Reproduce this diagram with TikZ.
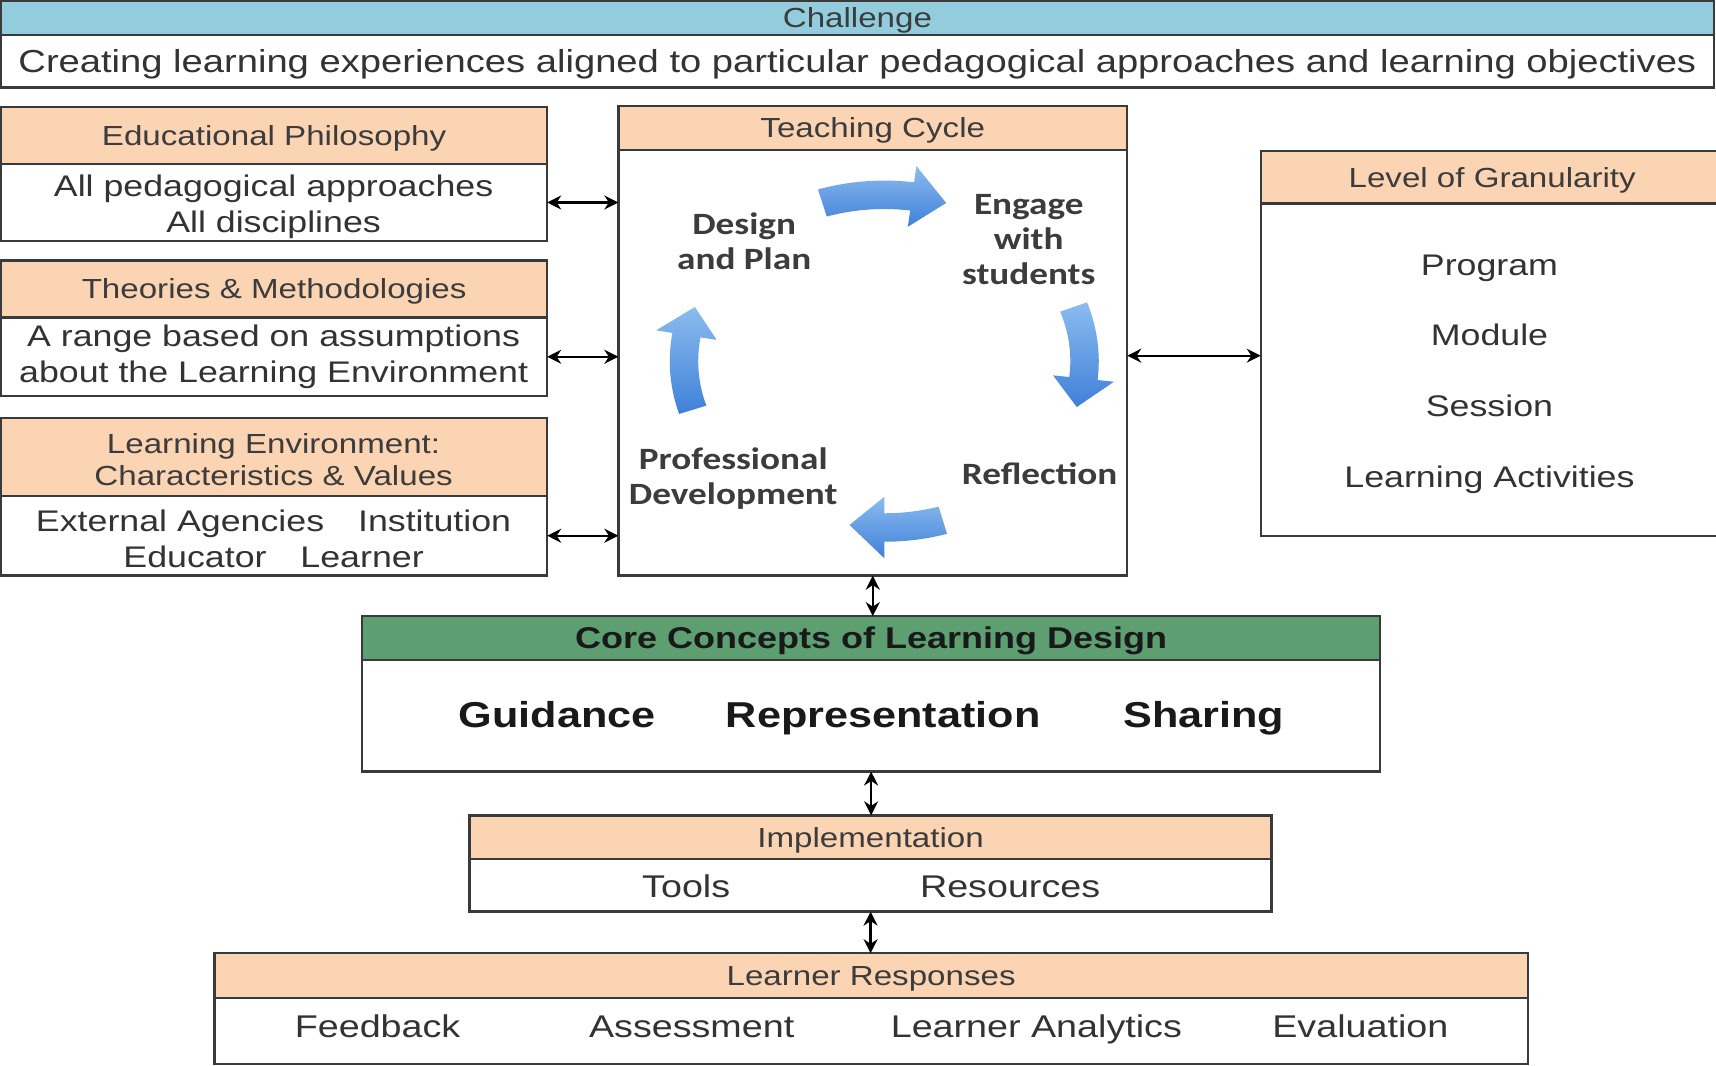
\documentclass[tikz,border=0pt]{standalone}
\usepackage{fontspec}
\setmainfont{Liberation Sans}[FakeStretch=1.2]
\newfontfamily\cycfont{Carlito}[FakeStretch=1.2]
\usetikzlibrary{arrows.meta}
\definecolor{peach}{HTML}{FBD4B4}
\definecolor{chblue}{HTML}{93CDDD}
\definecolor{coregreen}{HTML}{5E9F72}
\definecolor{bordc}{HTML}{3A3A3A}
\definecolor{txt}{HTML}{333333}
\definecolor{hdtxt}{HTML}{3C3C3C}
\definecolor{arrtop}{HTML}{8CBCEF}
\definecolor{arrbot}{HTML}{3F80D8}
\def\U{0.5472pt}
\newcommand\hfont{\fontsize{13.8}{15.9}\selectfont}
\newcommand\bx[7]{\node[#6, minimum width={(#4-#2)*\U}, minimum height={(#5-#3)*\U}] (#1) at ({(#2+#4)/2},{(#3+#5)/2}) {#7};}
\def\ccx{808}\def\ccy{330}\def\crx{183}\def\cry{152}\def\hw{13}\def\hh{28}
\newcommand\cycarrow[2]{%
  \pgfmathsetmacro\tb{#2-10}%
  \path[shade, top color=arrtop, bottom color=arrbot]
    plot[domain=#1:\tb, samples=24] ({\ccx+(\crx+\hw)*cos(\x)},{\ccy+(\cry+\hw)*sin(\x)})
    -- ({\ccx+(\crx+\hh)*cos(\tb)},{\ccy+(\cry+\hh)*sin(\tb)})
    -- ({\ccx+\crx*cos(#2)},{\ccy+\cry*sin(#2)})
    -- ({\ccx+(\crx-\hh)*cos(\tb)},{\ccy+(\cry-\hh)*sin(\tb)})
    -- plot[domain=\tb:#1, samples=24] ({\ccx+(\crx-\hw)*cos(\x)},{\ccy+(\cry-\hw)*sin(\x)})
    -- cycle;}
\begin{document}
\begin{tikzpicture}[x=\U, y=-\U,
  one/.style={text height=#1, text depth=0pt},
  box/.style={draw=bordc, line width=1.2pt, inner sep=0pt, outer sep=0pt, rectangle},
  hdr/.style={box, fill=peach, font=\hfont, text=hdtxt, align=center, one=9.9pt},
  body/.style={box, fill=white},
  bodytxt/.style={text=txt, align=center, inner sep=0pt, font=\fontsize{14.9}{18}\selectfont},
  lowtxt/.style={text=txt, inner sep=0pt, one=11.2pt, font=\fontsize{15.7}{18}\selectfont},
  cyctxt/.style={text=hdtxt, align=center, inner sep=0pt, font=\cycfont\bfseries\fontsize{15.5}{17.5}\selectfont},
  coretxt/.style={text=black!90, inner sep=0pt, one=12.9pt, font=\bfseries\fontsize{18}{21}\selectfont},
  conn/.style={{Stealth[length=7pt,width=7pt]}-{Stealth[length=7pt,width=7pt]}, line width=1.1pt, black}]
\useasboundingbox (0,0) rectangle (1568,974);
\fill[white] (0,0) rectangle (1568,974);

% Challenge
\bx{chh}{1}{1}{1566}{32}{box, one=9.9pt, fill=chblue, font=\hfont, text=hdtxt}{Challenge}
\bx{chb}{1}{32}{1566}{80}{body, one=11.4pt, font=\fontsize{15.9}{18}\selectfont, text=txt}{Creating learning experiences aligned to particular pedagogical approaches and learning objectives}

% Left column
\bx{eph}{1}{98}{500}{150}{hdr}{Educational Philosophy}
\bx{epb}{1}{150}{500}{220}{body}{}
\node[bodytxt] (ept) at (250,189) {All pedagogical approaches\\All disciplines};

\bx{tmh}{1}{238}{500}{290}{hdr}{Theories \& Methodologies}
\bx{tmb}{1}{290}{500}{362}{body}{}
\node[bodytxt] (tmt) at (250,326) {A range based on assumptions\\about the Learning Environment};

\bx{leh}{1}{382}{500}{453}{box, fill=peach}{}
\node[text=hdtxt, align=center, inner sep=0pt, font=\hfont] (leht) at (250,420) {Learning Environment:\\Characteristics \& Values};
\bx{leb}{1}{453}{500}{526}{body}{}
\node[bodytxt] (let) at (250,492) {External Agencies\hspace{12pt} Institution\\Educator\hspace{12pt} Learner};

% Teaching cycle
\bx{tch}{565}{97}{1030}{137}{hdr}{Teaching Cycle}
\bx{tcb}{565}{137}{1030}{526}{body}{}
\cycarrow{-108}{-72}
\cycarrow{-19}{16}
\cycarrow{73}{100}
\cycarrow{163}{199}
\node[cyctxt] (dp) at (680,220) {Design\\and Plan};
\node[cyctxt] (eng) at (940,219) {Engage\\with\\students};
\node[cyctxt, one=10pt] (refl) at (950,434) {Reflection};
\node[cyctxt] (prof) at (670,437) {Professional\\Development};

% Level of granularity
\bx{lgh}{1152}{138}{1575}{186}{hdr}{Level of Granularity}
\bx{lgb}{1152}{186}{1575}{490}{body}{}
\node[bodytxt, one=10.7pt] (prog) at (1361,242) {Program};
\node[bodytxt, one=10.7pt] (mod) at (1361,306) {Module};
\node[bodytxt, one=10.7pt] (sess) at (1361,371) {Session};
\node[bodytxt, one=10.7pt] (lact) at (1361,436) {Learning Activities};

% Core concepts
\bx{coh}{331}{563}{1261}{603}{box, one=10.7pt, fill=coregreen, font=\bfseries\fontsize{15}{18}\selectfont, text=black!90}{Core Concepts of Learning Design}
\bx{cob}{331}{603}{1261}{705}{body}{}
\node[coretxt] (guid) at (509,653) {Guidance};
\node[coretxt] (repr) at (807,653) {Representation};
\node[coretxt] (shar) at (1100,653) {Sharing};

% Implementation
\bx{imh}{429}{745}{1162}{785}{hdr}{Implementation}
\bx{imb}{429}{785}{1162}{833}{body}{}
\node[lowtxt] (tools) at (627,810) {Tools};
\node[lowtxt] (res) at (923,810) {Resources};

% Learner responses
\bx{lrh}{196}{871}{1396}{912}{hdr}{Learner Responses}
\bx{lrb}{196}{912}{1396}{972}{body}{}
\node[lowtxt] (fb) at (345,938) {Feedback};
\node[lowtxt] (asm) at (632,938) {Assessment};
\node[lowtxt] (la) at (947,938) {Learner Analytics};
\node[lowtxt] (ev) at (1243,938) {Evaluation};

% Connectors
\draw[conn] (epb.east) -- (epb.east -| tcb.west);
\draw[conn] (tmb.east) -- (tmb.east -| tcb.west);
\draw[conn] (leb.east) -- (leb.east -| tcb.west);
\coordinate (lgy) at (1100,325);
\draw[conn] (lgy -| tcb.east) -- (lgy -| lgb.west);
\draw[conn] (tcb.south) -- (tcb.south |- coh.north);
\draw[conn] (cob.south) -- (cob.south |- imh.north);
\draw[conn] (imb.south) -- (imb.south |- lrh.north);
\end{tikzpicture}
\end{document}
